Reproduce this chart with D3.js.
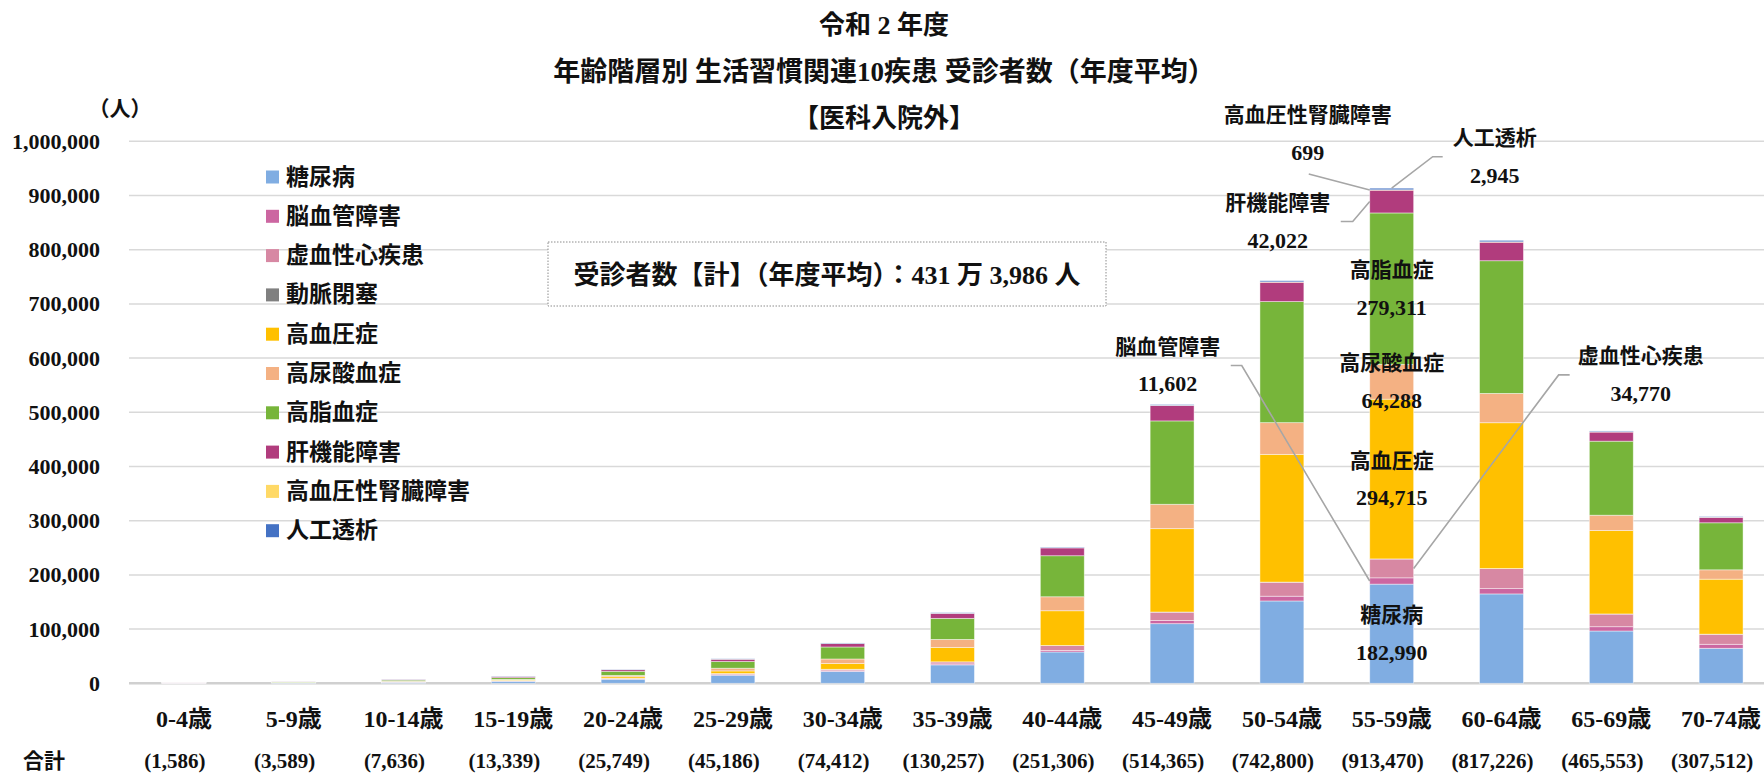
<!DOCTYPE html>
<html>
<head>
<meta charset="utf-8">
<script src="https://cdn.jsdelivr.net/npm/d3@7"></script>
<style>
  body { margin: 0; background: #fff; }
  svg { display: block; }
  text { font-family: "Liberation Serif", "Noto Sans CJK JP", serif; font-weight: bold; fill: #111; }
</style>
</head>
<body>
<svg id="chart" width="1764" height="774"></svg>
<script>
// 年齢階層
const ageGroups = ["0-4歳", "5-9歳", "10-14歳", "15-19歳", "20-24歳", "25-29歳", "30-34歳", "35-39歳",
                   "40-44歳", "45-49歳", "50-54歳", "55-59歳", "60-64歳", "65-69歳", "70-74歳"];
// 合計（年度平均）
const totals = [1586, 3589, 7636, 13339, 25749, 45186, 74412, 130257, 251306, 514365, 742800, 913470, 817226, 465553, 307512];

// 疾患別 受診者数
const diabetes     = [200, 700, 2000, 3800, 7500, 14976, 22000, 34000, 57800, 110000, 151900, 182990, 164900, 96500, 64600];
const cerebro      = [150, 150, 200, 300, 600, 1000, 1100, 1800, 2800, 6000, 8800, 11602, 9800, 7900, 7400];
const ischemic     = [350, 400, 400, 600, 1200, 2000, 2700, 3700, 9000, 15300, 25800, 34770, 36900, 23400, 18500];
const arterial     = [20, 20, 30, 50, 40, 60, 80, 100, 150, 200, 200, 128, 150, 150, 150];
const hypertension = [150, 300, 700, 1300, 2800, 4800, 10500, 26600, 64100, 153800, 235700, 294715, 269000, 153800, 101500];
const hyperuric    = [50, 200, 600, 1200, 2500, 5000, 8500, 14800, 25800, 45000, 58500, 64288, 54100, 28400, 17200];
const hyperlipid   = [200, 900, 2000, 3200, 7500, 12400, 22132, 38800, 75700, 153800, 223400, 279311, 244800, 136600, 86800];
const liver        = [400, 800, 1400, 2300, 3000, 4200, 6300, 9300, 14500, 28400, 35700, 42022, 34200, 16800, 10000];
const renal        = [20, 40, 80, 100, 100, 150, 200, 200, 300, 400, 600, 699, 700, 500, 400];
const dialysis     = [46, 79, 226, 489, 509, 600, 900, 957, 1156, 1465, 2200, 2945, 2676, 1503, 962];

const seriesNames = ["糖尿病", "脳血管障害", "虚血性心疾患", "動脈閉塞", "高血圧症", "高尿酸血症",
                     "高脂血症", "肝機能障害", "高血圧性腎臓障害", "人工透析"];
const seriesValues = [diabetes, cerebro, ischemic, arterial, hypertension, hyperuric, hyperlipid, liver, renal, dialysis];
const seriesColors = ["#80ADE2", "#CC66A1", "#D788A3", "#808080", "#FFC000", "#F4B183",
                      "#77B53A", "#B13C7D", "#FFD966", "#4472C4"];

const yTicks = [0, 100000, 200000, 300000, 400000, 500000, 600000, 700000, 800000, 900000, 1000000];

// 内訳を表示する年齢階層
const highlightGroup = "55-59歳";

const svg = d3.select("#chart");
const W = 1764;

const x = d3.scaleBand().domain(ageGroups).range([129, 1776]).paddingInner(0.6).paddingOuter(0.3);
const y = d3.scaleLinear().domain([0, 1000000]).range([683.3, 141.3]);
const color = d3.scaleOrdinal().domain(seriesNames).range(seriesColors);

// rows for d3.stack
const rows = ageGroups.map((g, i) => {
  const r = { group: g };
  seriesNames.forEach((s, k) => r[s] = seriesValues[k][i]);
  return r;
});
const stacked = d3.stack().keys(seriesNames)(rows);

// grid
svg.append("g").selectAll("line").data(yTicks).join("line")
  .attr("x1", 129).attr("x2", W)
  .attr("y1", d => y(d)).attr("y2", d => y(d))
  .attr("stroke", d => d === 0 ? "#d0d0d0" : "#d9d9d9")
  .attr("stroke-width", d => d === 0 ? 2.5 : 1.5);

// y axis labels
const fmt = d3.format(",");
svg.append("g").selectAll("text").data(yTicks).join("text")
  .attr("x", 100).attr("y", d => y(d))
  .attr("text-anchor", "end").attr("dominant-baseline", "central")
  .style("font-size", "22px").text(d => fmt(d));

svg.append("text").attr("x", 120).attr("y", 109).attr("text-anchor", "middle")
  .attr("dominant-baseline", "central").style("font-size", "21px").text("（人）");

// bars
svg.append("g").selectAll("g").data(stacked).join("g")
  .attr("fill", d => color(d.key))
  .selectAll("rect").data(d => d).join("rect")
  .attr("x", d => x(d.data.group))
  .attr("width", x.bandwidth())
  .attr("y", d => y(d[1]))
  .attr("height", d => Math.max(0, y(d[0]) - y(d[1])))
  .attr("stroke", "#ffffff").attr("stroke-opacity", 0.55).attr("stroke-width", 0.8);

// x labels
svg.append("g").selectAll("text").data(ageGroups).join("text")
  .attr("x", d => x(d) + x.bandwidth() / 2).attr("y", 719)
  .attr("text-anchor", "middle").attr("dominant-baseline", "central")
  .style("font-size", "24px").text(d => d);

// totals row
svg.append("text").attr("x", 44).attr("y", 761).attr("text-anchor", "middle")
  .attr("dominant-baseline", "central").style("font-size", "21px").text("合計");
svg.append("g").selectAll("text").data(totals).join("text")
  .attr("x", (d, i) => x(ageGroups[i]) + x.bandwidth() / 2 - 9).attr("y", 761)
  .attr("text-anchor", "middle").attr("dominant-baseline", "central")
  .style("font-size", "21px").text(d => "(" + fmt(d) + ")");

// labels for the highlighted group
const hi = ageGroups.indexOf(highlightGroup);
const bx0 = x(highlightGroup), bw = x.bandwidth(), bcx = bx0 + bw / 2;
const seg = name => stacked[seriesNames.indexOf(name)][hi];
const segMid = name => (y(seg(name)[0]) + y(seg(name)[1])) / 2;
const val = name => seriesValues[seriesNames.indexOf(name)][hi];
const LINE = 18.5;
const labelG = svg.append("g");

function twoLine(cx, cy, name) {
  labelG.append("text").attr("x", cx).attr("y", cy - LINE).attr("text-anchor", "middle")
    .attr("dominant-baseline", "central").style("font-size", "21px").text(name);
  labelG.append("text").attr("x", cx).attr("y", cy + LINE).attr("text-anchor", "middle")
    .attr("dominant-baseline", "central").style("font-size", "22px").text(fmt(val(name)));
}

// inside the bar
["糖尿病", "高血圧症", "高尿酸血症", "高脂血症"].forEach(n => twoLine(bcx, segMid(n), n));

// outside the bar, with leader lines
const leader = pts => labelG.append("path")
  .attr("d", d3.line()(pts)).attr("fill", "none")
  .attr("stroke", "#a6a6a6").attr("stroke-width", 1.6);

// 脳血管障害 (left side)
{
  const ax = bx0, ay = segMid("脳血管障害");
  const lx = ax - 202, ly = ay - 215.5;
  leader([[ax, ay], [lx + 74, ly], [lx + 63, ly]]);
  twoLine(lx, ly, "脳血管障害");
}
// 虚血性心疾患 (right side)
{
  const ax = bx0 + bw, ay = segMid("虚血性心疾患");
  const lx = ax + 227, ly = ay - 193.5;
  leader([[ax, ay], [lx - 82, ly], [lx - 71, ly]]);
  twoLine(lx, ly, "虚血性心疾患");
}
// 肝機能障害
{
  const ax = bx0, ay = segMid("肝機能障害");
  const lx = ax - 92, ly = ay + 20;
  leader([[ax, ay], [lx + 75, ly], [lx + 63, ly]]);
  twoLine(lx, ly, "肝機能障害");
}
// 高血圧性腎臓障害
{
  const ax = bx0, ay = segMid("高血圧性腎臓障害");
  const lx = ax - 62, ly = ay - 56;
  leader([[ax, ay], [lx + 1, ly + 40]]);
  twoLine(lx, ly, "高血圧性腎臓障害");
}
// 人工透析
{
  const ax = bcx, ay = y(seg("人工透析")[1]);
  const lx = ax + 103, ly = ay - 31.5;
  leader([[ax, ay], [lx - 62, ly], [lx - 52, ly]]);
  twoLine(lx, ly, "人工透析");
}

// legend
const lg = svg.append("g").selectAll("g").data(seriesNames).join("g")
  .attr("transform", (d, i) => `translate(266, ${177 + i * 39.3})`);
lg.append("rect").attr("x", 0).attr("y", -6.5).attr("width", 13).attr("height", 13).attr("fill", d => color(d));
lg.append("text").attr("x", 20).attr("y", 0).attr("dominant-baseline", "central")
  .style("font-size", "23px").text(d => d);

// grand total box
const grand = d3.sum(totals);
const man = Math.floor(grand / 10000), rest = grand % 10000;
svg.append("rect").attr("x", 548).attr("y", 242).attr("width", 558).attr("height", 64)
  .attr("fill", "#fff").attr("stroke", "#8c8c8c").attr("stroke-width", 1).attr("stroke-dasharray", "1.5,1.5");
svg.append("text").attr("x", 827).attr("y", 275).attr("text-anchor", "middle").attr("dominant-baseline", "central")
  .style("font-size", "26px").text(`受診者数【計】（年度平均）：${man} 万 ${fmt(rest)} 人`);

// titles
const titles = ["令和 2 年度", "年齢階層別 生活習慣関連10疾患 受診者数（年度平均）", "【医科入院外】"];
svg.append("g").selectAll("text").data(titles).join("text")
  .attr("x", 884).attr("y", (d, i) => [25, 72, 118][i])
  .attr("text-anchor", "middle").attr("dominant-baseline", "central")
  .style("font-size", (d, i) => i === 1 ? "27px" : "26px").text(d => d);
</script>
</body>
</html>
